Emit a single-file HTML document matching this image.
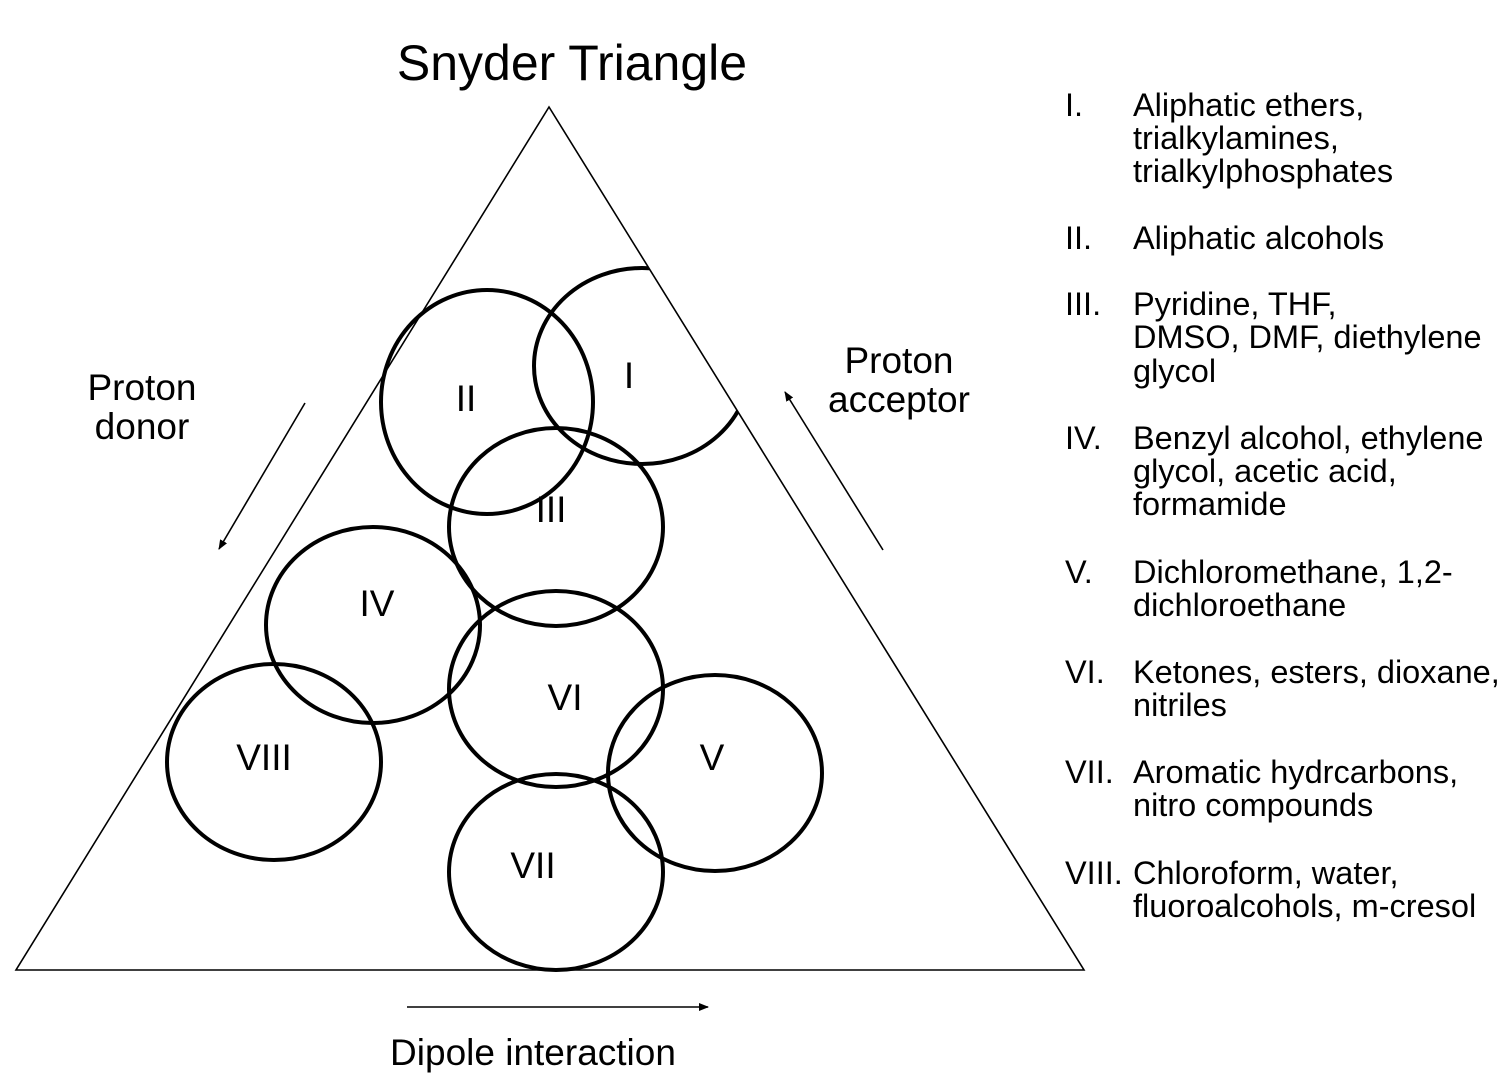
<!DOCTYPE html>
<html><head><meta charset="utf-8"><style>
body{margin:0;background:#fff}
svg text{font-family:"Liberation Sans",Arial,sans-serif;fill:#000}
</style></head><body>
<svg width="1510" height="1078" viewBox="0 0 1510 1078" xmlns="http://www.w3.org/2000/svg">
<defs>
<clipPath id="tri"><polygon points="549,107 16,970 1084,970"/></clipPath>
<marker id="ah" markerWidth="10" markerHeight="10" refX="9" refY="5" orient="auto" markerUnits="userSpaceOnUse"><path d="M0,1 L10,5 L0,9 Z" fill="#000"/></marker>
</defs>
<polygon points="549,107 16,970 1084,970" fill="none" stroke="#000" stroke-width="1.6"/>
<text x="572" y="80" font-size="50" text-anchor="middle">Snyder Triangle</text>
<g fill="none" stroke="#000" stroke-width="4">
<ellipse cx="642" cy="366" rx="108" ry="98" clip-path="url(#tri)"/>
<ellipse cx="487" cy="402" rx="106" ry="112"/>
<ellipse cx="556" cy="527" rx="107" ry="99"/>
<ellipse cx="373" cy="625" rx="107" ry="98"/>
<ellipse cx="556" cy="689" rx="107" ry="98"/>
<ellipse cx="715" cy="773" rx="107" ry="98"/>
<ellipse cx="274" cy="762" rx="107" ry="98"/>
<ellipse cx="556" cy="872" rx="107" ry="98"/>
</g>
<g font-size="37" text-anchor="middle">
<text x="629" y="388">I</text>
<text x="466" y="411">II</text>
<text x="551" y="522">III</text>
<text x="377" y="616">IV</text>
<text x="565" y="710">VI</text>
<text x="712" y="770">V</text>
<text x="264" y="770">VIII</text>
<text x="533" y="878">VII</text>
<text x="142" y="400">Proton</text>
<text x="142" y="439">donor</text>
<text x="899" y="373">Proton</text>
<text x="899" y="412">acceptor</text>
<text x="533" y="1065">Dipole interaction</text>
</g>
<g stroke="#000" stroke-width="1.6">
<line x1="305" y1="403" x2="219" y2="549" marker-end="url(#ah)"/>
<line x1="883" y1="550" x2="785" y2="392" marker-end="url(#ah)"/>
<line x1="407" y1="1007" x2="708" y2="1007" marker-end="url(#ah)"/>
</g>
<g font-size="32.5">
<text x="1065" y="116">I.</text><text x="1133" y="116">Aliphatic ethers,</text>
<text x="1133" y="149">trialkylamines,</text>
<text x="1133" y="182">trialkylphosphates</text>
<text x="1065" y="249">II.</text><text x="1133" y="249">Aliphatic alcohols</text>
<text x="1065" y="315">III.</text><text x="1133" y="315">Pyridine, THF,</text>
<text x="1133" y="348">DMSO, DMF, diethylene</text>
<text x="1133" y="382">glycol</text>
<text x="1065" y="449">IV.</text><text x="1133" y="449">Benzyl alcohol, ethylene</text>
<text x="1133" y="482">glycol, acetic acid,</text>
<text x="1133" y="515">formamide</text>
<text x="1065" y="583">V.</text><text x="1133" y="583">Dichloromethane, 1,2-</text>
<text x="1133" y="616">dichloroethane</text>
<text x="1065" y="683">VI.</text><text x="1133" y="683">Ketones, esters, dioxane,</text>
<text x="1133" y="716">nitriles</text>
<text x="1065" y="783">VII.</text><text x="1133" y="783">Aromatic hydrcarbons,</text>
<text x="1133" y="816">nitro compounds</text>
<text x="1065" y="884">VIII.</text><text x="1133" y="884">Chloroform, water,</text>
<text x="1133" y="917">fluoroalcohols, m-cresol</text>
</g>
</svg>
</body></html>
